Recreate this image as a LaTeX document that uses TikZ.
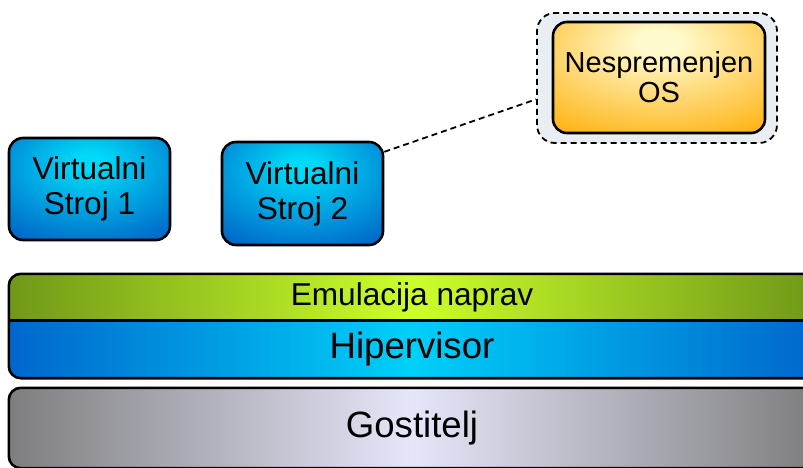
\documentclass[tikz,border=0pt]{standalone}
\usepackage{fontspec}
\setmainfont{Liberation Sans}
\usetikzlibrary{backgrounds}

\definecolor{vmInner}{RGB}{0,218,248}
\definecolor{vmOuter}{RGB}{0,84,192}
\definecolor{osInner}{RGB}{255,250,205}
\definecolor{osOuter}{RGB}{255,172,0}
\definecolor{grpTint}{RGB}{233,238,243}
\definecolor{emulSide}{RGB}{112,152,24}
\definecolor{emulMid}{RGB}{204,255,42}
\definecolor{hypSide}{RGB}{0,102,204}
\definecolor{hypMid}{RGB}{0,208,248}
\definecolor{hostSide}{RGB}{126,126,128}
\definecolor{hostMid}{RGB}{230,230,250}

% glow from the upper middle of a box
\pgfdeclareradialshading{vmglow}{\pgfpoint{0bp}{14bp}}{color(0bp)=(vmInner); color(4bp)=(vmInner); color(45bp)=(vmOuter); color(100bp)=(vmOuter)}
\pgfdeclareradialshading{osglow}{\pgfpoint{0bp}{17bp}}{color(0bp)=(osInner); color(5bp)=(osInner); color(45bp)=(osOuter); color(100bp)=(osOuter)}

\begin{document}
\begin{tikzpicture}[x=1pt,y=1pt,
  tile/.style={draw,line width=2.6pt,rounded corners=14pt,align=center,inner sep=0pt,
    font=\fontsize{31.6}{35}\selectfont,minimum width=161pt,minimum height=102pt},
  vmbox/.style={tile,shade,shading=vmglow},
  osbox/.style={tile,shade,shading=osglow,minimum width=212pt,minimum height=111pt,
    font=\fontsize{29}{30}\selectfont},
  grpbox/.style={draw,fill=grpTint,line width=1.8pt,dash pattern=on 6pt off 4pt,
    rounded corners=18pt,minimum width=240pt,minimum height=130pt},
  layer/.style={minimum width=806pt,inner sep=0pt},
  link/.style={line width=1.8pt,dash pattern=on 6pt off 4pt}]
\useasboundingbox (0,0) rectangle (803,467);
\clip (0,0) rectangle (803,467);

% virtual machines
\node[vmbox] (vm1) at (89.5,278) {Virtualni\\Stroj 1};
\node[vmbox,minimum height=103pt] (vm2) at (302.5,273.5) {Virtualni\\Stroj 2};

% unmodified guest
\node[grpbox] (grp) at (657,389) {};
\node[osbox] (os) at (659,389.5) {Nespremenjen\\OS};
\draw[link] (vm2.27) -- (grp.190);

% layers
\node[layer,minimum height=46pt,font=\fontsize{31.6}{35}\selectfont] (emul) at (412,170) {Emulacija naprav};
\node[layer,minimum height=58pt,font=\fontsize{36.6}{40}\selectfont] (hyp) at (412,118) {Hipervisor};
\node[layer,minimum height=80pt,font=\fontsize{36.6}{40}\selectfont] (host) at (412,39) {Gostitelj};

\begin{scope}[on background layer]
  \begin{scope}
    \clip[rounded corners=12pt] (emul.north west) rectangle (hyp.south east);
    \shade[left color=emulSide,right color=emulSide,middle color=emulMid]
      (emul.north west) rectangle (emul.south east);
    \shade[left color=hypSide,right color=hypSide,middle color=hypMid]
      (hyp.north west) rectangle (hyp.south east);
  \end{scope}
  \draw[line width=2.6pt,rounded corners=12pt] (emul.north west) rectangle (hyp.south east);
  \draw[line width=2.6pt] (emul.south west) -- (emul.south east);
  \shade[draw,line width=2.6pt,rounded corners=12pt,
    left color=hostSide,right color=hostSide,middle color=hostMid]
    (host.north west) rectangle (host.south east);
\end{scope}
\end{tikzpicture}
\end{document}
